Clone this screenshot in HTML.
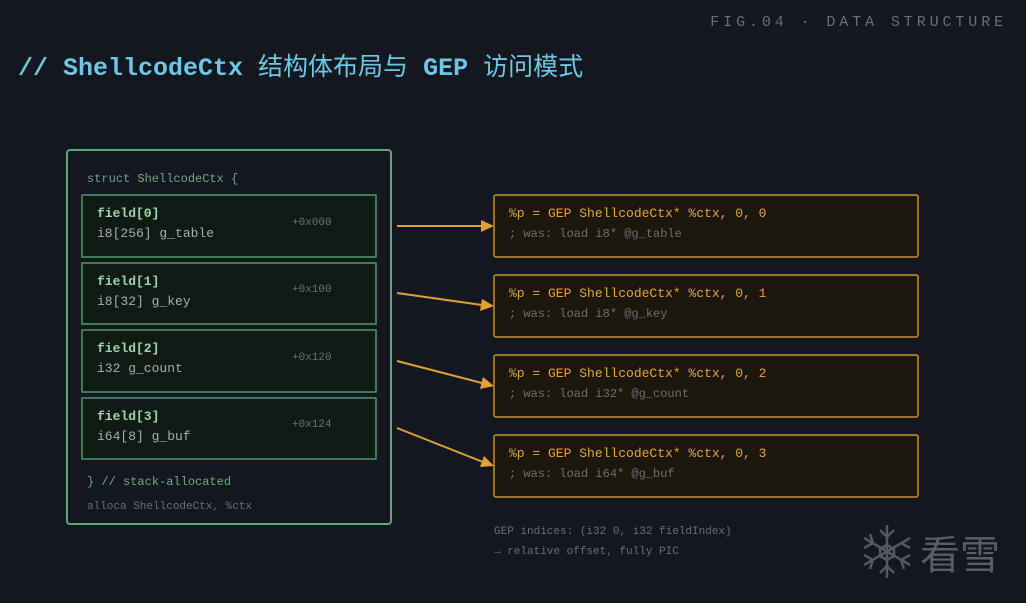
<!DOCTYPE html>
<html><head><meta charset="utf-8"><style>
html,body{margin:0;padding:0;background:#141720;}
svg{display:block}
text{font-family:"Liberation Mono","Noto Sans CJK SC",monospace;}
</style></head><body>
<svg width="1026" height="603" viewBox="0 0 1026 603" xmlns="http://www.w3.org/2000/svg">
<rect width="1026" height="603" fill="#141720"/>
<text x="1007" y="26" text-anchor="end" font-size="15" fill="#6b6f78" letter-spacing="3.9">FIG.04 · DATA STRUCTURE</text>
<text x="18" y="75" font-size="25" fill="#6cc8e4" font-weight="bold">// ShellcodeCtx <tspan font-family="Noto Sans CJK SC,sans-serif" font-weight="normal">结构体布局与</tspan> GEP <tspan font-family="Noto Sans CJK SC,sans-serif" font-weight="normal">访问模式</tspan></text>

<rect x="67" y="150" width="324" height="374" rx="3" fill="#141720" stroke="#5aa874" stroke-width="2"/>
<text x="87" y="182" font-size="12" fill="#6aae82">struct ShellcodeCtx {</text>

<g font-size="13">
<rect x="82" y="195" width="294" height="62" fill="#0f1a15" stroke="#4f9a68" stroke-width="1.5"/>
<text x="97" y="217" fill="#9ed6aa" font-weight="bold">field[0]</text>
<text x="97" y="237" fill="#a8adb5">i8[256] g_table</text>
<text x="292" y="225" font-size="11" fill="#6b7078">+0x000</text>

<rect x="82" y="263" width="294" height="61" fill="#0f1a15" stroke="#4f9a68" stroke-width="1.5"/>
<text x="97" y="285" fill="#9ed6aa" font-weight="bold">field[1]</text>
<text x="97" y="305" fill="#a8adb5">i8[32] g_key</text>
<text x="292" y="292" font-size="11" fill="#6b7078">+0x100</text>

<rect x="82" y="330" width="294" height="62" fill="#0f1a15" stroke="#4f9a68" stroke-width="1.5"/>
<text x="97" y="352" fill="#9ed6aa" font-weight="bold">field[2]</text>
<text x="97" y="372" fill="#a8adb5">i32 g_count</text>
<text x="292" y="360" font-size="11" fill="#6b7078">+0x120</text>

<rect x="82" y="398" width="294" height="61" fill="#0f1a15" stroke="#4f9a68" stroke-width="1.5"/>
<text x="97" y="420" fill="#9ed6aa" font-weight="bold">field[3]</text>
<text x="97" y="440" fill="#a8adb5">i64[8] g_buf</text>
<text x="292" y="427" font-size="11" fill="#6b7078">+0x124</text>
</g>
<text x="87" y="485" font-size="12" fill="#6aae82">} // stack-allocated</text>
<text x="87" y="509" font-size="11" fill="#6b7078">alloca ShellcodeCtx, %ctx</text>

<g stroke="#e0a032" stroke-width="2" fill="#e0a032">
<line x1="397" y1="226" x2="482" y2="226"/><polygon points="494,226 481,220 481,232" stroke="none"/>
<line x1="397" y1="293" x2="482" y2="305"/><polygon points="494,306 482,299 480,311" stroke="none"/>
<line x1="397" y1="361" x2="482" y2="383"/><polygon points="494,386 483,377 480,389" stroke="none"/>
<line x1="397" y1="428" x2="483" y2="462"/><polygon points="494,466 484,456 480,467" stroke="none"/>
</g>

<g font-size="13">
<rect x="494" y="195" width="424" height="62" rx="2" fill="#1c170c" stroke="#c8912e" stroke-width="1.5"/>
<text x="509" y="217" fill="#e6a63a">%p = GEP ShellcodeCtx* %ctx, 0, 0</text>
<text x="509" y="237" font-size="12" fill="#6b6f78">; was: load i8* @g_table</text>

<rect x="494" y="275" width="424" height="62" rx="2" fill="#1c170c" stroke="#c8912e" stroke-width="1.5"/>
<text x="509" y="297" fill="#e6a63a">%p = GEP ShellcodeCtx* %ctx, 0, 1</text>
<text x="509" y="317" font-size="12" fill="#6b6f78">; was: load i8* @g_key</text>

<rect x="494" y="355" width="424" height="62" rx="2" fill="#1c170c" stroke="#c8912e" stroke-width="1.5"/>
<text x="509" y="377" fill="#e6a63a">%p = GEP ShellcodeCtx* %ctx, 0, 2</text>
<text x="509" y="397" font-size="12" fill="#6b6f78">; was: load i32* @g_count</text>

<rect x="494" y="435" width="424" height="62" rx="2" fill="#1c170c" stroke="#c8912e" stroke-width="1.5"/>
<text x="509" y="457" fill="#e6a63a">%p = GEP ShellcodeCtx* %ctx, 0, 3</text>
<text x="509" y="477" font-size="12" fill="#6b6f78">; was: load i64* @g_buf</text>
</g>

<text x="494" y="534" font-size="11" fill="#6b6f78">GEP indices: (i32 0, i32 fieldIndex)</text>
<text x="494" y="554" font-size="11" fill="#6b6f78">→ relative offset, fully PIC</text>

<g stroke="#55585f" stroke-width="2.5" fill="none">
<line x1="887" y1="525" x2="887" y2="578"/>
<line x1="864" y1="538" x2="910" y2="565"/>
<line x1="864" y1="565" x2="910" y2="538"/>
<polygon points="887,545 894,549 894,556 887,560 880,556 880,549"/>
<path d="M880,530 L887,537 L894,530 M880,573 L887,566 L894,573 M864,548 L873,543 L870,534 M910,548 L901,543 M864,555 L873,560 L870,569 M910,555 L901,560 L904,569"/>
</g>
<text x="920" y="569" font-size="40" fill="#5a5d64" font-family="Noto Sans CJK SC,sans-serif">看雪</text>
</svg>
</body></html>
